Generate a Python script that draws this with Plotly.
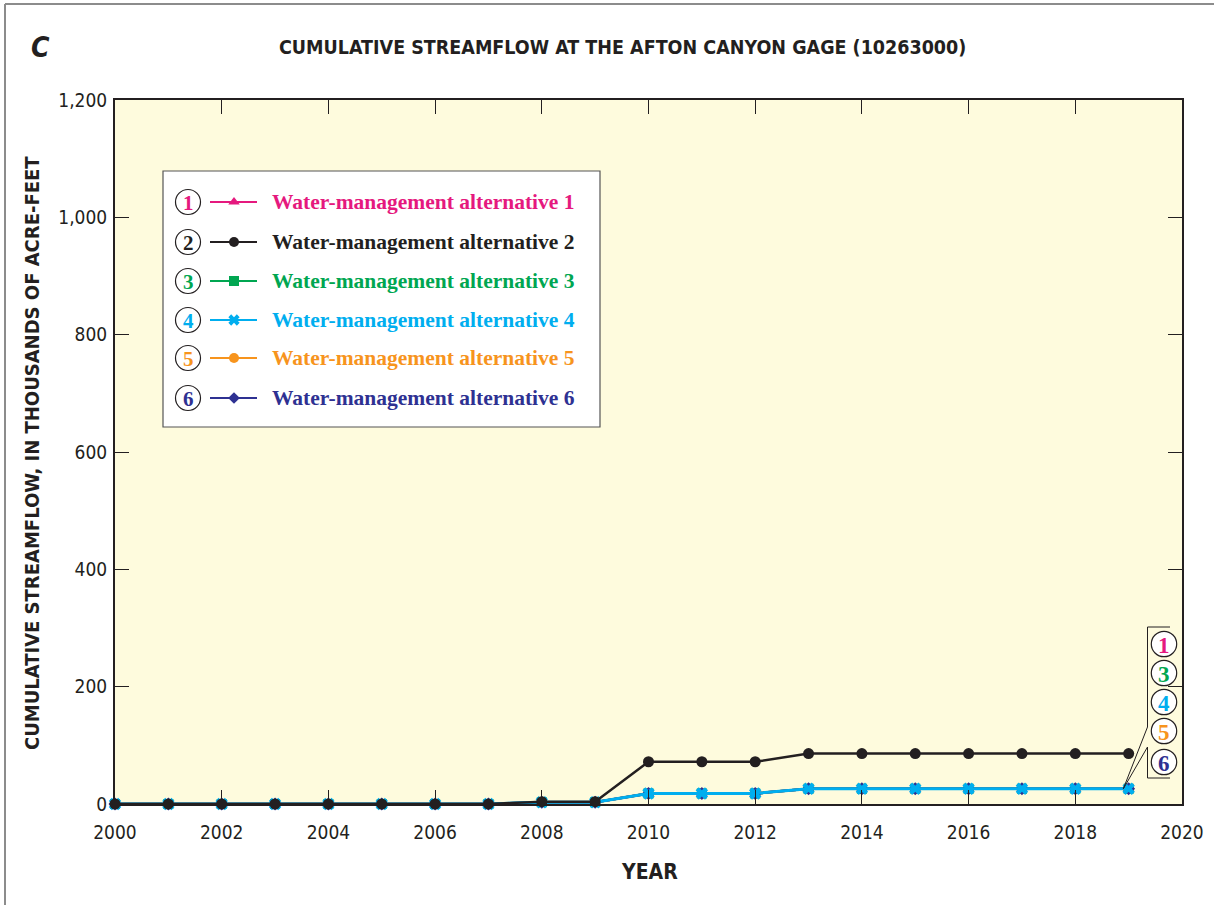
import plotly.graph_objects as go

years = list(range(2000, 2020))
alt1 = [0, 0, 0, 0, 0, 0, 0, 0, 3, 3, 18, 18, 18, 26, 26, 26, 26, 26, 26, 26]
alt2 = [0, 0, 0, 0, 0, 0, 0, 0, 4, 4, 72, 72, 72, 86, 86, 86, 86, 86, 86, 86]
alt3 = [0, 0, 0, 0, 0, 0, 0, 0, 3, 3, 18, 18, 18, 26, 26, 26, 26, 26, 26, 26]
alt4 = [0, 0, 0, 0, 0, 0, 0, 0, 3, 3, 18, 18, 18, 26, 26, 26, 26, 26, 26, 26]
alt5 = [0, 0, 0, 0, 0, 0, 0, 0, 3, 3, 18, 18, 18, 26, 26, 26, 26, 26, 26, 26]
alt6 = [0, 0, 0, 0, 0, 0, 0, 0, 3, 3, 18, 18, 18, 26, 26, 26, 26, 26, 26, 26]

names = ["Water-management alternative %d" % i for i in range(1, 7)]
colors = ["#E5197E", "#231F20", "#00A651", "#00AEEF", "#F7941D", "#2E3192"]
symbols = ["triangle-up", "circle", "square", "x", "circle", "diamond"]
series = [alt1, alt2, alt3, alt4, alt5, alt6]

x_ticks = list(range(2000, 2021, 2))
y_ticks = list(range(0, 1201, 200))
y_ticklabels = ["0", "200", "400", "600", "800", "1,000", "1,200"]

NARROW = "Liberation Sans Narrow, DejaVu Sans Condensed, Roboto Condensed, Arial Narrow, Liberation Sans, sans-serif"
SERIF = "Liberation Serif, Times New Roman, serif"

W, H = 1214, 905
L, R, T, B = 115, 32, 100, 101
PW, PH = W - L - R, H - T - B

def px(xp):
    return (xp - L) / PW

def py(yp):
    return (H - B - yp) / PH

fig = go.Figure()

order = [0, 2, 4, 5, 3, 1]
for i in order:
    fig.add_trace(go.Scatter(
        x=years, y=series[i], mode="lines+markers", name=names[i],
        line=dict(color=colors[i], width=3 if i == 3 else 2.5),
        marker=dict(symbol=symbols[i], size=11 if i in (1, 3) else 10,
                    color=colors[i], line=dict(width=0)),
        cliponaxis=False, showlegend=False, hoverinfo="skip"))

shapes = []
annotations = []

# outer frame
shapes.append(dict(type="line", xref="paper", yref="paper", x0=px(5), x1=px(5), y0=py(4), y1=py(905),
                   line=dict(color="#8C8C8C", width=2)))
shapes.append(dict(type="line", xref="paper", yref="paper", x0=px(5), x1=px(1214), y0=py(4), y1=py(4),
                   line=dict(color="#8C8C8C", width=2)))

# legend box
shapes.append(dict(type="rect", xref="paper", yref="paper", x0=px(163), x1=px(600), y0=py(171), y1=py(427),
                   fillcolor="white", line=dict(color="#555555", width=1.2), layer="below"))
row_y = [202, 242, 281, 320, 358, 398]
for i in range(6):
    yy = row_y[i]
    shapes.append(dict(type="circle", xref="paper", yref="paper", x0=px(188 - 12.5), x1=px(188 + 12.5),
                       y0=py(yy - 12.5), y1=py(yy + 12.5), line=dict(color="#231F20", width=1.2),
                       fillcolor="white", layer="below"))
    annotations.append(dict(xref="paper", yref="paper", x=px(188), y=py(yy + 1), text="<b>%d</b>" % (i + 1),
                            showarrow=False, font=dict(family=SERIF, size=21, color=colors[i]),
                            xanchor="center", yanchor="middle"))
    shapes.append(dict(type="line", xref="paper", yref="paper", x0=px(210), x1=px(257), y0=py(yy), y1=py(yy),
                       line=dict(color=colors[i], width=2), layer="below"))
    annotations.append(dict(xref="paper", yref="paper", x=px(270), y=py(yy), text="<b>%s</b>" % names[i],
                            showarrow=False, font=dict(family=SERIF, size=21.5, color=colors[i]),
                            xanchor="left", yanchor="middle"))

# legend key markers on overlay axes (0..1 = plot area)
for i in range(6):
    fig.add_trace(go.Scatter(
        x=[px(234)], y=[py(row_y[i])], xaxis="x2", yaxis="y2", mode="markers",
        marker=dict(symbol=symbols[i], size=10 if i != 5 else 9, color=colors[i],
                    line=dict(width=0)),
        showlegend=False, hoverinfo="skip", cliponaxis=False))

# right-side labels
lab_nums = [1, 3, 4, 5, 6]
lab_y = [644, 673, 702, 731, 762]
for n, yy in zip(lab_nums, lab_y):
    shapes.append(dict(type="circle", xref="paper", yref="paper", x0=px(1164 - 12.7), x1=px(1164 + 12.7),
                       y0=py(yy - 12.7), y1=py(yy + 12.7), line=dict(color="#231F20", width=1.2),
                       fillcolor="white"))
    annotations.append(dict(xref="paper", yref="paper", x=px(1164), y=py(yy + 1), text="<b>%d</b>" % n,
                            showarrow=False, font=dict(family=SERIF, size=23, color=colors[n - 1]),
                            xanchor="center", yanchor="middle"))
# bracket
bk = dict(color="#231F20", width=1)
shapes.append(dict(type="line", xref="paper", yref="paper", x0=px(1147.5), x1=px(1170), y0=py(627), y1=py(627), line=bk))
shapes.append(dict(type="line", xref="paper", yref="paper", x0=px(1147.5), x1=px(1147.5), y0=py(627), y1=py(727), line=bk))
shapes.append(dict(type="line", xref="paper", yref="paper", x0=px(1147.5), x1=px(1147.5), y0=py(747), y1=py(778), line=bk))
shapes.append(dict(type="line", xref="paper", yref="paper", x0=px(1147.5), x1=px(1170), y0=py(778), y1=py(778), line=bk))
# leader lines from last point
x_end = years[-1]
y_end = alt4[-1]
bx = 2000 + (1147.5 - L) / PW * 20
for ypx in (727, 747):
    shapes.append(dict(type="line", xref="x", yref="y", x0=x_end - 0.1, y0=y_end,
                       x1=bx, y1=(H - B - ypx) / PH * 1200, line=bk))

# title, panel letter, axis titles
annotations.append(dict(xref="paper", yref="paper", x=px(622), y=py(48), text="<b>CUMULATIVE STREAMFLOW AT THE AFTON CANYON GAGE (10263000)</b>",
                        showarrow=False, font=dict(family=NARROW, size=19.5, color="#231F20"),
                        xanchor="center", yanchor="middle"))
annotations.append(dict(xref="paper", yref="paper", x=px(40), y=py(48), text="<b><i>C</i></b>",
                        showarrow=False, font=dict(family=NARROW, size=28, color="#231F20"),
                        xanchor="center", yanchor="middle"))
annotations.append(dict(xref="paper", yref="paper", x=px(649), y=py(872), text="<b>YEAR</b>",
                        showarrow=False, font=dict(family=NARROW, size=21, color="#231F20"),
                        xanchor="center", yanchor="middle"))
annotations.append(dict(xref="paper", yref="paper", x=px(32), y=py(453), text="<b>CUMULATIVE STREAMFLOW, IN THOUSANDS OF ACRE-FEET</b>",
                        showarrow=False, textangle=-90, font=dict(family=NARROW, size=20, color="#231F20"),
                        xanchor="center", yanchor="middle"))

fig.update_layout(
    width=W, height=H,
    margin=dict(l=L, r=R, t=T, b=B, autoexpand=False),
    paper_bgcolor="white", plot_bgcolor="#FEFBDD",
    showlegend=False,
    shapes=shapes, annotations=annotations,
    xaxis=dict(range=[2000, 2020], tickvals=x_ticks, ticks="inside", ticklen=14, tickcolor="#231F20",
               tickwidth=1, showgrid=False, zeroline=False, showline=True, linecolor="#231F20",
               linewidth=2, mirror="ticks", ticklabelstandoff=10,
               tickfont=dict(family=NARROW, size=19, color="#231F20")),
    yaxis=dict(range=[0, 1200], tickvals=y_ticks, ticktext=y_ticklabels, ticks="inside", ticklen=14,
               tickcolor="#231F20", tickwidth=1, showgrid=False, zeroline=False, showline=True,
               linecolor="#231F20", linewidth=2, mirror="ticks", ticklabelstandoff=2,
               tickfont=dict(family=NARROW, size=19, color="#231F20")),
    xaxis2=dict(overlaying="x", range=[0, 1], visible=False),
    yaxis2=dict(overlaying="y", range=[0, 1], visible=False),
)

fig.write_html("out.html", config={"displayModeBar": False},
               post_script="document.body.style.margin='0';document.body.style.overflow='hidden';")
